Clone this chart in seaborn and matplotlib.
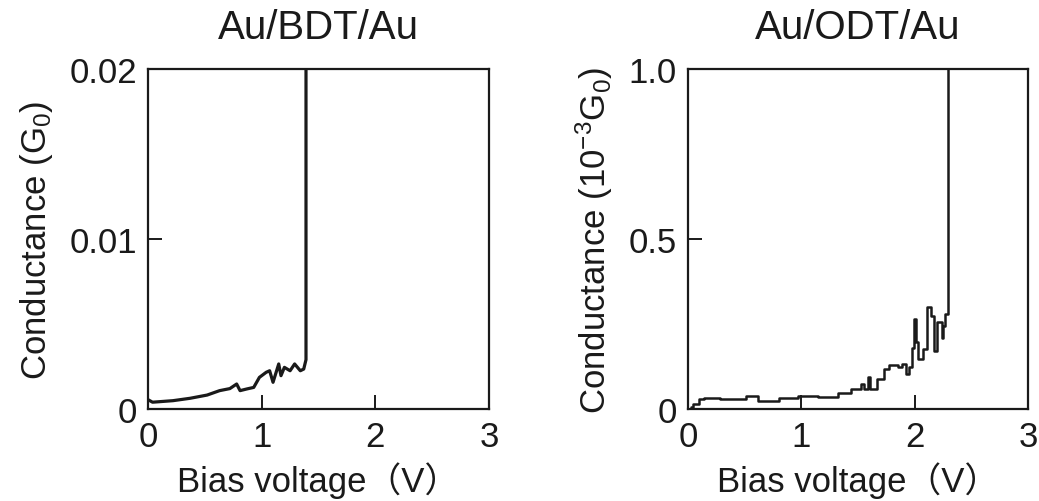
import matplotlib
matplotlib.use("Agg")
import matplotlib.pyplot as plt
import seaborn as sns
import pandas as pd

# Au/BDT/Au junction: conductance in G0 vs bias voltage (V)
bdt_v = [0.00, 0.04, 0.22, 0.37, 0.52, 0.63, 0.72, 0.78, 0.81, 0.87, 0.93,
         0.98, 1.04, 1.07, 1.10, 1.15, 1.17, 1.20, 1.25, 1.29, 1.34, 1.37,
         1.39, 1.39]
bdt_g = [0.00055, 0.00040, 0.00049, 0.00063, 0.00082, 0.00108, 0.00120,
         0.00147, 0.00108, 0.00118, 0.00127, 0.00186, 0.00216, 0.00225,
         0.00157, 0.00265, 0.00196, 0.00245, 0.00225, 0.00265, 0.00225,
         0.00235, 0.00290, 0.02500]

# Au/ODT/Au junction: conductance in 1e-3 G0 vs bias voltage (V)
odt_v = [0.03, 0.04, 0.10, 0.14, 0.28, 0.51, 0.62, 0.80, 0.97, 1.15, 1.32,
         1.44, 1.53, 1.55, 1.59, 1.61, 1.67, 1.73, 1.77, 1.85, 1.89, 1.92,
         1.95, 1.98, 1.99, 2.01, 2.03, 2.07, 2.11, 2.14, 2.17, 2.20, 2.24,
         2.25, 2.27, 2.29, 2.29]
odt_g = [0.005, 0.015, 0.029, 0.031, 0.029, 0.037, 0.025, 0.031, 0.037,
         0.034, 0.046, 0.059, 0.074, 0.059, 0.093, 0.059, 0.088, 0.118,
         0.129, 0.125, 0.132, 0.103, 0.125, 0.180, 0.265, 0.197, 0.147,
         0.176, 0.300, 0.274, 0.170, 0.255, 0.210, 0.245, 0.280, 0.290,
         1.200]

titles = ["Au/BDT/Au", "Au/ODT/Au"]
x_ticks = [0, 1, 2, 3]
bdt_y_ticks = [0, 0.01, 0.02]
bdt_y_labels = ["0", "0.01", "0.02"]
odt_y_ticks = [0, 0.5, 1.0]
odt_y_labels = ["0", "0.5", "1.0"]

sns.set_theme(style="white")
FAM = ["Liberation Sans", "Noto Sans CJK JP", "DejaVu Sans"]
plt.rcParams["font.family"] = FAM
plt.rcParams["mathtext.fontset"] = "custom"
plt.rcParams["mathtext.rm"] = "Liberation Sans"
plt.rcParams["mathtext.it"] = "Liberation Sans"
plt.rcParams["mathtext.default"] = "regular"

fig = plt.figure(figsize=(10.39, 5.02), dpi=100)
W, H = 1039, 502
ax1 = fig.add_axes([148 / W, 92 / H, (489 - 148) / W, 340 / H])
ax2 = fig.add_axes([688 / W, 92 / H, (1028 - 688) / W, 340 / H])

df1 = pd.DataFrame({"v": bdt_v, "g": bdt_g})
df2 = pd.DataFrame({"v": odt_v, "g": odt_g})
ink = "#1a1a1a"
sns.lineplot(data=df1, x="v", y="g", ax=ax1, color=ink, lw=2.3,
             sort=False, estimator=None)
sns.lineplot(data=df2, x="v", y="g", ax=ax2, color=ink, lw=1.8,
             sort=False, estimator=None, drawstyle="steps-post")

fs = 25
ax1.set_ylim(0, 0.02)
ax2.set_ylim(0, 1.0)
ax1.set_yticks(bdt_y_ticks)
ax1.set_yticklabels(bdt_y_labels)
ax2.set_yticks(odt_y_ticks)
ax2.set_yticklabels(odt_y_labels)
ax1.set_ylabel("Conductance (G$_0$)", fontsize=fs, labelpad=10, color=ink)
ax2.set_ylabel("Conductance (10$^{-3}$G$_0$)", fontsize=fs, labelpad=10,
               color=ink)

for ax, title in zip([ax1, ax2], titles):
    ax.set_xlim(0, 3)
    ax.set_xticks(x_ticks)
    ax.set_xticklabels([str(t) for t in x_ticks])
    ax.set_xlabel("Bias voltage（V）", fontsize=fs, labelpad=6, color=ink)
    ax.set_title(title, fontsize=29, pad=22, color=ink)
    ax.tick_params(direction="in", length=10, width=1.4, labelsize=fs,
                   colors=ink, pad=8, bottom=True, left=True)
    for sp in ax.spines.values():
        sp.set_visible(True)
        sp.set_linewidth(1.6)
        sp.set_color(ink)

fig.savefig("out.png", dpi=100)
